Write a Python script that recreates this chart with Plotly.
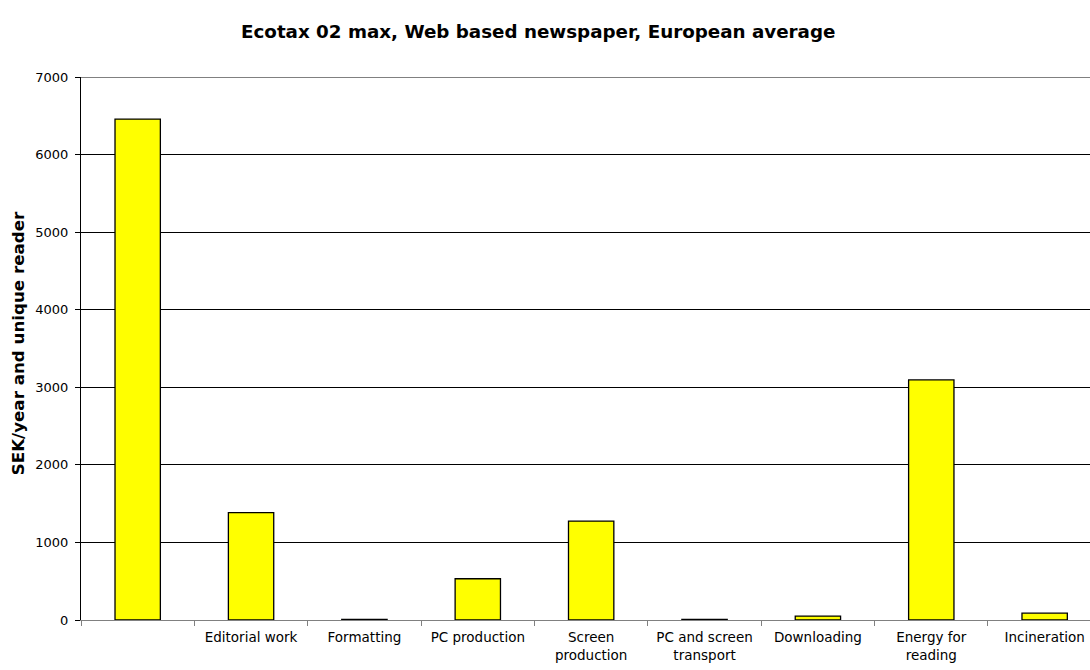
import plotly.graph_objects as go

categories = [" ", "Editorial work", "Formatting", "PC production", "Screen<br>production",
              "PC and screen<br>transport", "Downloading", "Energy for<br>reading", "Incineration"]
values = [6458, 1385, 8, 532, 1275, 8, 50, 3095, 88]
y_ticks = [0, 1000, 2000, 3000, 4000, 5000, 6000, 7000]

FONT = "DejaVu Sans, Verdana, sans-serif"

fig = go.Figure()
fig.add_trace(go.Bar(
    x=categories, y=values, width=0.4,
    marker=dict(color="#FFFF00", line=dict(color="#000000", width=1.3)),
))

fig.update_layout(
    width=1090, height=670,
    paper_bgcolor="white", plot_bgcolor="white",
    margin=dict(l=81, r=0, t=77, b=49.5),
    showlegend=False,
    font=dict(family=FONT, size=13, color="#000000"),
    xaxis=dict(
        type="category", range=[-0.5, 8.4],
        tickson="boundaries", ticks="outside", ticklen=5,
        tickcolor="#808080", showline=True, linecolor="#808080", linewidth=1,
        showgrid=False, zeroline=False, tickfont=dict(size=13.5, family=FONT),
        ticklabelstandoff=5,
    ),
    yaxis=dict(
        range=[0, 7000], tickvals=y_ticks, ticks="outside", ticklen=5, tickcolor="#000000",
        showline=True, linecolor="#000000", linewidth=1,
        showgrid=True, gridcolor="#000000", gridwidth=1, zeroline=False,
        tickfont=dict(size=13, family=FONT), ticklabelstandoff=4,
    ),
    bargap=0.6,
)
fig.add_annotation(text="<b>Ecotax 02 max, Web based newspaper, European average</b>",
                   xref="paper", yref="paper", x=0.453, y=1.0846, xanchor="center",
                   yanchor="middle", showarrow=False, font=dict(size=18.3, family=FONT))
fig.add_annotation(text="<b>SEK/year and unique reader</b>", textangle=-90,
                   xref="paper", yref="paper", x=-0.0624, y=0.5097, xanchor="center",
                   yanchor="middle", showarrow=False, font=dict(size=16.7, family=FONT))
fig.add_shape(type="line", xref="paper", yref="y", x0=0, x1=1, y0=7000, y1=7000,
              line=dict(color="#808080", width=2), layer="above")

fig.write_html("out.html", config={"displayModeBar": False},
               post_script="document.body.style.margin='0';document.body.style.overflow='hidden';")
